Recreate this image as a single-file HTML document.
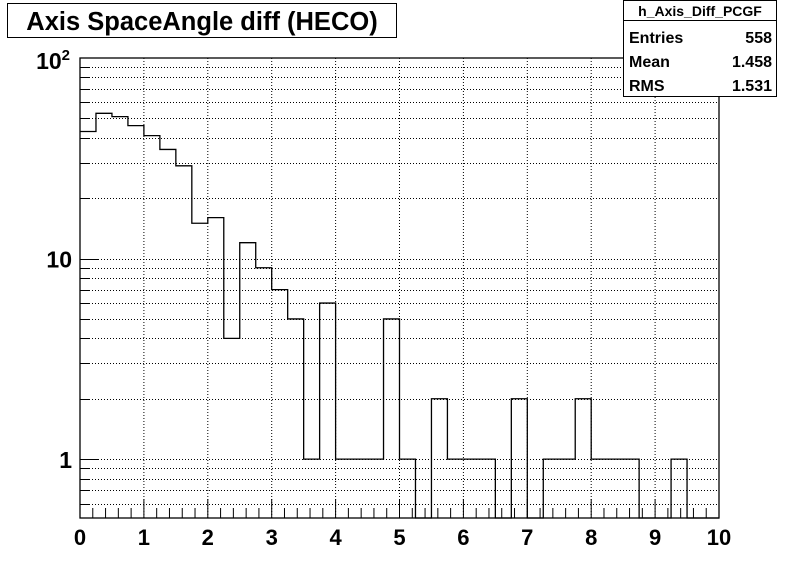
<!DOCTYPE html>
<html><head><meta charset="utf-8"><style>
body{margin:0;background:#fff;}
svg{display:block;font-family:"Liberation Sans",Arial,sans-serif;}
</style></head><body>
<svg id="c" width="798" height="576">
<rect x="0" y="0" width="798" height="576" fill="#fff"/>
<g>
<rect x="7.5" y="3.5" width="389" height="34" fill="#fff" stroke="#000"/>
<text x="202" y="30" font-size="25.5" font-weight="bold" text-anchor="middle">Axis SpaceAngle diff (HECO)</text>
</g>
<g id="grid"></g>
<g id="axes"></g>
<path id="hist" fill="none" stroke="#000" stroke-width="1.3"/>
<g>
<rect x="623.5" y="0.5" width="153" height="96" fill="#fff" stroke="#000"/>
<line x1="623.5" y1="20.5" x2="776.5" y2="20.5" stroke="#000"/>
<text x="700" y="16" font-size="14" font-weight="bold" text-anchor="middle">h_Axis_Diff_PCGF</text>
<text x="629" y="43" font-size="16" font-weight="bold">Entries</text>
<text x="772" y="43" font-size="16" font-weight="bold" text-anchor="end">558</text>
<text x="629" y="67" font-size="16" font-weight="bold">Mean</text>
<text x="772" y="67" font-size="16" font-weight="bold" text-anchor="end">1.458</text>
<text x="629" y="91" font-size="16" font-weight="bold">RMS</text>
<text x="772" y="91" font-size="16" font-weight="bold" text-anchor="end">1.531</text>
</g>
</svg>
<script>
const binEdgesStart = 0, binWidth = 0.25;
const counts = [43,53,51,46,41,35,29,15,16,4,12,9,7,5,1,6,1,1,1,5,1,0,2,1,1,1,0,2,0,1,1,2,1,1,1,0,0,1,0,0];
const xTicks = [0,1,2,3,4,5,6,7,8,9,10];
const yMajor = [1,10,100];
const yLabels = ["1","10","10²"];
const yGridVals = [0.6,0.7,0.8,0.9,1,2,3,4,5,6,7,8,9,10,20,30,40,50,60,70,80,90];

const NS="http://www.w3.org/2000/svg";
const L=80,R=719,T=58,B=518;
const xMin=0,xMax=10,yMin=0.5085,yMax=100;
function X(v){return L+(v-xMin)/(xMax-xMin)*(R-L);}
function Y(v){return B-(Math.log10(v)-Math.log10(yMin))/(Math.log10(yMax)-Math.log10(yMin))*(B-T);}
function mk(tag,attrs,parent){const e=document.createElementNS(NS,tag);for(const k in attrs)e.setAttribute(k,attrs[k]);parent.appendChild(e);return e;}
const grid=document.getElementById('grid'),axes=document.getElementById('axes');
xTicks.forEach(v=>{if(v>xMin&&v<xMax){const l=mk('line',{x1:X(v),x2:X(v),y1:T,y2:B,stroke:'#000','stroke-dasharray':'1,2'},grid);

}});
yGridVals.forEach(v=>{const y=Math.round(Y(v))+0.5;const l=mk('line',{x1:L,x2:R,y1:y,y2:y,stroke:'#000','stroke-dasharray':'1,2'},grid);


const isMaj=yMajor.includes(v);
const t=mk('line',{x1:L,x2:L+(isMaj?19:10),y1:y,y2:y,stroke:'#000'},axes);

});
const fr=mk('rect',{x:L,y:T,width:R-L,height:B-T,fill:'none',stroke:'#000','stroke-width':1.3},axes);


for(let i=0;i<=50;i++){const v=i*0.2;const maj=i%5===0;const t=mk('line',{x1:X(v),x2:X(v),y1:B,y2:B-(maj?19:10),stroke:'#000'},axes);

}
xTicks.forEach(v=>{const t=mk('text',{x:X(v),y:B+27,'font-size':22,'font-weight':'bold','text-anchor':'middle'},axes);t.textContent=String(v);

});
yMajor.forEach((v,i)=>{const t=mk('text',{x:L-8,y:Y(v)+9,'font-size':23,'font-weight':'bold','text-anchor':'end'},axes);
if(yLabels[i]==="10²"){t.setAttribute('y',Y(v)+11);t.innerHTML='10<tspan dy="-9" font-size="15">2</tspan>';t.setAttribute('x',L-10);}else t.textContent=yLabels[i];

});
let d='';const yb=B;
counts.forEach((c,i)=>{const x0=X(binEdgesStart+i*binWidth),x1=X(binEdgesStart+(i+1)*binWidth);const y=c>0?Math.max(T,Y(c)):yb;
d+=(i===0?'M'+x0+','+y:'L'+x0+','+y)+' L'+x1+','+y+' ';});
document.getElementById('hist').setAttribute('d',d);
</script>
</body></html>
